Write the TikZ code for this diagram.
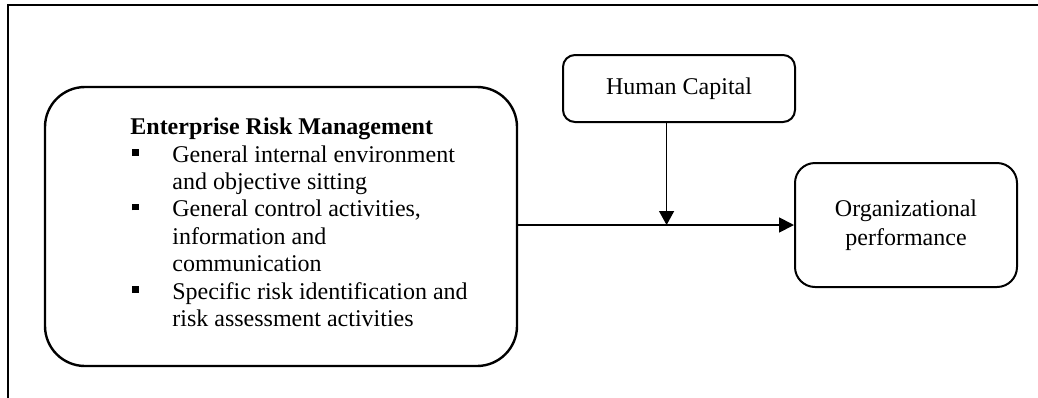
\documentclass[tikz,border=0pt]{standalone}
\usepackage{fontspec}
\setmainfont{Liberation Serif}
\usetikzlibrary{arrows.meta,calc}
\newcommand\sqbul{\makebox[21pt][l]{\hspace{1pt}\raisebox{3.3pt}{\rule{3.4pt}{3.4pt}}}}
\newcommand\indentln{\makebox[21pt]{}}
\begin{document}
\begin{tikzpicture}[x=0.5pt,y=-0.5pt,
  box/.style={draw, line width=1pt, rounded corners=#1, inner sep=0pt, align=center,
    font=\fontsize{12pt}{14.5pt}\selectfont},
  frame/.style={line width=1.2pt},
  arr/.style={line width=0.9pt, -{Triangle[length=7.5pt,width=7.5pt]}},
  varr/.style={line width=0.7pt, -{Triangle[length=7pt,width=7.5pt]}},
  body/.style={anchor=west, inner sep=0pt, align=left, font=\fontsize{12pt}{13.7pt}\selectfont}
]
\useasboundingbox (0,0) rectangle (1038,397);
% outer frame
\draw[frame] (1038,5) -- (8,5) -- (8,400);
% boxes
\node[box=20pt, line width=1.2pt, minimum width=236pt, minimum height=139.5pt] (erm) at (281,226.5) {};
\node[body] (ermtext) at (130,222.4) {\textbf{Enterprise Risk Management}\\
\sqbul General internal environment\\
\indentln and objective sitting\\
\sqbul General control activities,\\
\indentln information and\\
\indentln communication\\
\sqbul Specific risk identification and\\
\indentln risk assessment activities};
\node[box=6pt, minimum width=116pt, minimum height=33.5pt] (hc) at (679,88.5) {Human Capital};
\node[box=10pt, minimum width=111pt, minimum height=62pt] (op) at (906,225) {Organizational\\performance};
% connectors
\draw[arr] (op.west -| erm.east) -- (op.west);
\coordinate (mid) at ($(op.west -| erm.east)!0.538!(op.west)$);
\draw[varr] (hc.south -| mid) -- (mid);
\end{tikzpicture}
\end{document}
